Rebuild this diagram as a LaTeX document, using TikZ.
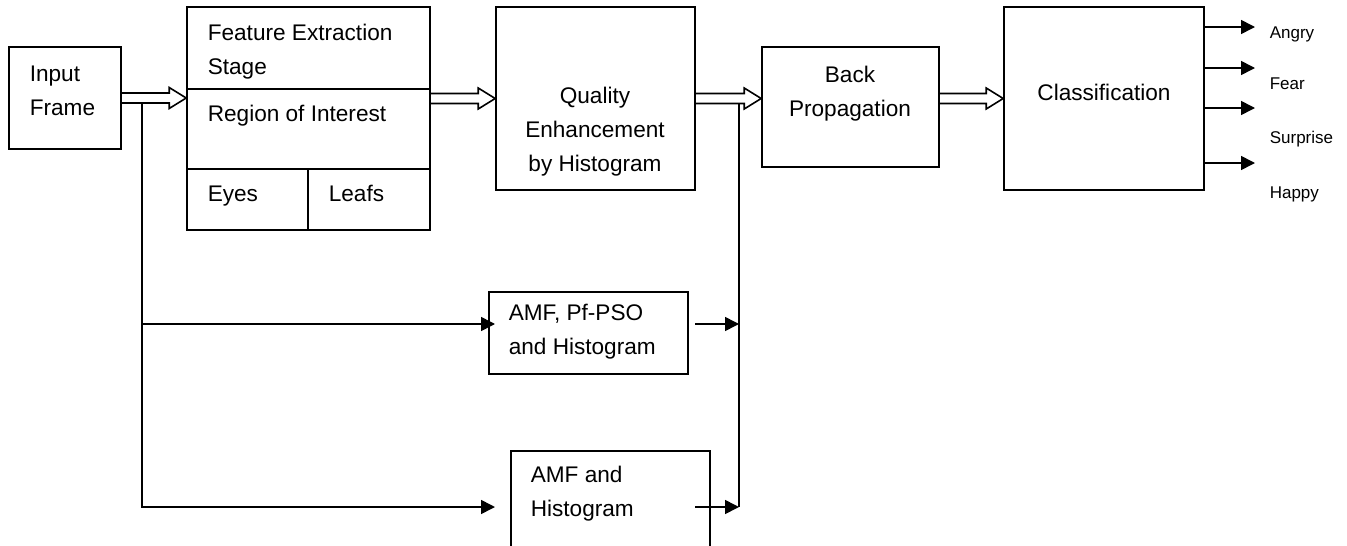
\documentclass[tikz,border=0pt]{standalone}
\usepackage{fontspec}
\setmainfont{Liberation Sans}
\usetikzlibrary{arrows.meta,calc}

% hollow block arrow between two points at the same height
\newcommand{\fatarrow}[2]{%
  \draw[fat] ($(#1)+(0,-5)$) -- ($(#2)+(-17,-5)$) -- ($(#2)+(-17,-10.5)$) -- (#2)
    -- ($(#2)+(-17,10.5)$) -- ($(#2)+(-17,5)$) -- ($(#1)+(0,5)$);}

\begin{document}
\begin{tikzpicture}[x=1pt,y=-1pt,line width=1.6pt,
    fat/.style={line width=1.6pt,line join=miter},
    arr/.style={-{Triangle[length=14pt,width=14pt]}}]

      \useasboundingbox (0,0) rectangle (1347,546);
      \clip (0,0) rectangle (1347,546);

      \begin{scope}[every node/.style={draw,rectangle,inner sep=0pt}]
        \node[minimum width=112pt,minimum height=102pt] (input) at (65,98) {};
        \node[minimum width=243pt,minimum height=223pt] (feat)  at (308.5,118.5) {};
        \node[minimum width=199pt,minimum height=183pt] (qual)  at (595.5,98.5) {};
        \node[minimum width=177pt,minimum height=120pt] (back)  at (850.5,107) {};
        \node[minimum width=200pt,minimum height=183pt] (cls)   at (1104,98.5) {};
        \node[minimum width=199pt,minimum height=82pt]  (amfp)  at (588.5,333) {};
        \node[minimum width=199pt,minimum height=128pt] (amfh)  at (610.5,515) {};
      \end{scope}

      % compartments of the feature box
      \draw (feat.west |- 0,89) -- (feat.east |- 0,89);
      \draw (feat.west |- 0,169) -- (feat.east |- 0,169);
      \draw (308,169) -- (feat.south -| 308,0);

      \begin{scope}[every node/.style={inner sep=0pt,align=left,anchor=west,
          font=\fontsize{22.6}{34}\selectfont}]
        \node (inlbl)  at (29,91)    {Input\\Frame};
        \node (ftitle) at (207,52)   {Feature Extraction\\Stage};
        \node (roi)    at (207,116)  {Region of Interest};
        \node (eyes)   at (207,196)  {Eyes};
        \node (leafs)  at (328,193)  {Leafs};
        \node (amfplbl) at (508,331.5) {AMF, Pf-PSO\\and Histogram};
        \node (amfhlbl) at (530,493.5) {AMF and\\Histogram};
        \node[align=center,anchor=center] (qlbl) at (595,132)  {Quality\\Enhancement\\by Histogram};
        \node[align=center,anchor=center] (blbl) at (850,94) {Back\\Propagation};
        \node[anchor=center] (clbl) at (1104,92) {Classification};
      \end{scope}

      \begin{scope}[every node/.style={inner sep=0pt,anchor=west,
          font=\fontsize{17}{20}\selectfont}]
        \node (angry)    at (1269,34)  {Angry};
        \node (fear)     at (1269,84)  {Fear};
        \node (surprise) at (1269,139) {Surprise};
        \node (happy)    at (1269,194) {Happy};
      \end{scope}

      \fatarrow{input.east}{feat.west |- input.east}
      \fatarrow{feat.east |- qual.west}{qual.west}
      \fatarrow{qual.east}{back.west |- qual.east}
      \fatarrow{back.east |- cls.west}{cls.west}

      \foreach \y/\n in {27/1,68/2,108/3,163/4} {
        \coordinate (o\n) at (1255,\y);
        \draw[arr] (cls.east |- o\n) -- (o\n);
      }

      \coordinate (split) at (142,103.5);
      \coordinate (t1) at (495,324);
      \coordinate (t2) at (495,507);
      \draw[arr] (split) |- (t2);
      \draw[arr] (split |- t1) -- (t1);

      \coordinate (merge) at (739,103.5);
      \coordinate (s1) at (695,324);
      \coordinate (s2) at (695,507);
      \draw (merge) -- (merge |- s2);
      \draw[arr] (s1) -- (merge |- s1);
      \draw[arr] (s2) -- (merge |- s2);

    \end{tikzpicture}
\end{document}
